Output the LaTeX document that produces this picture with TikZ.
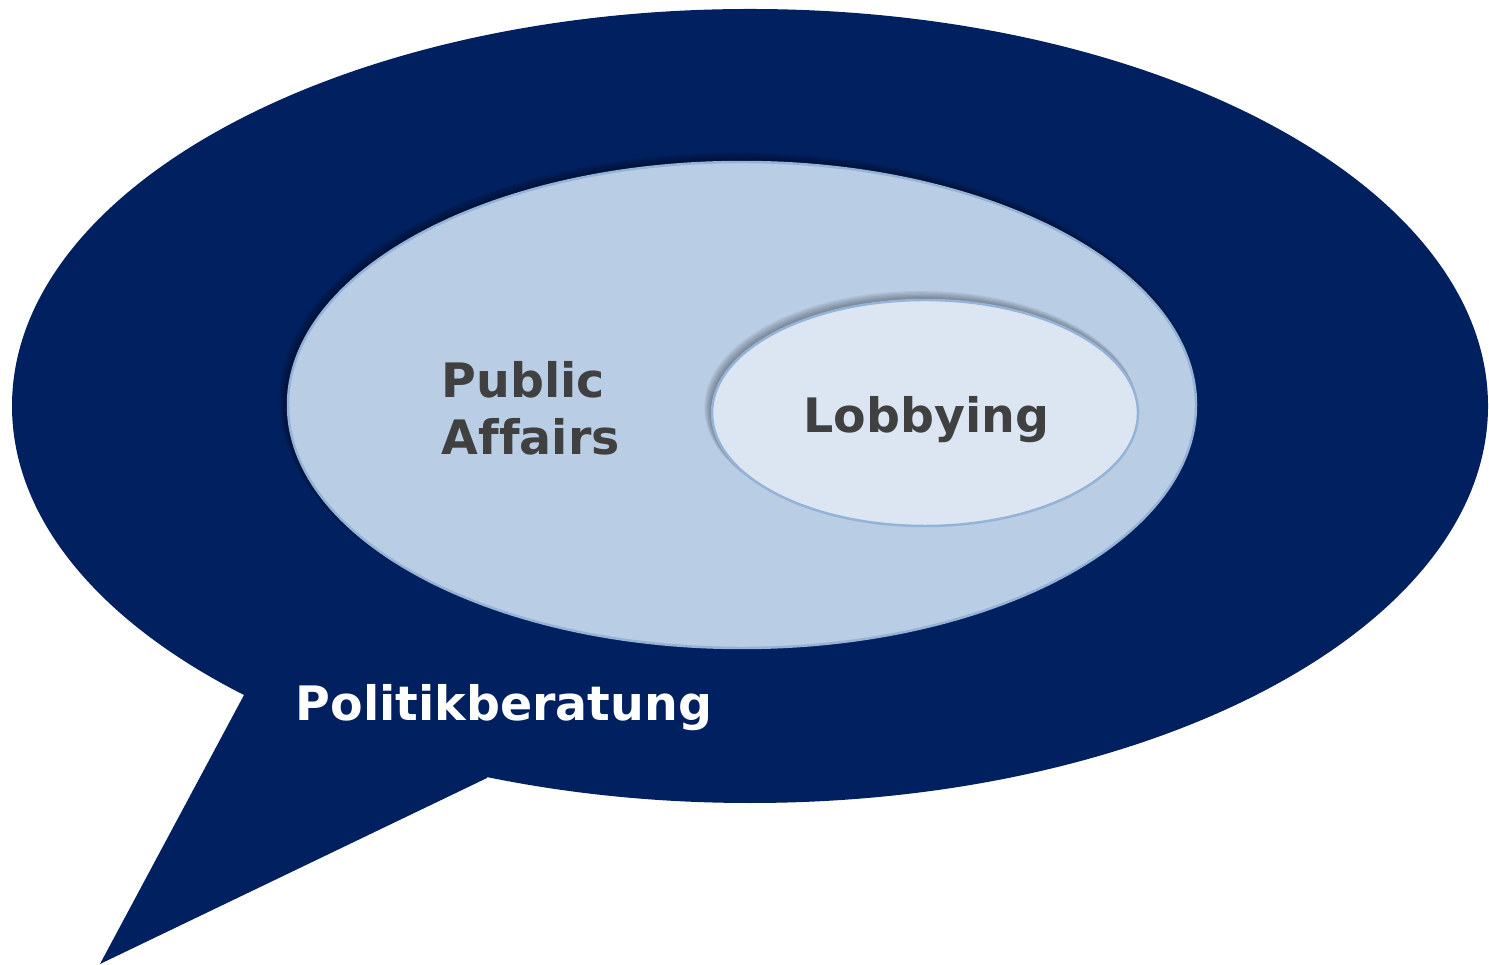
\documentclass[tikz,border=0pt]{standalone}
\usepackage{fontspec}
\setmainfont[Ligatures=NoCommon]{DejaVu Sans}
\definecolor{navy}{HTML}{00205F}
\definecolor{midfill}{HTML}{B9CDE5}
\definecolor{midline}{HTML}{95B3D7}
\definecolor{innerfill}{HTML}{DCE6F2}
\definecolor{txt}{HTML}{404040}
\tikzset{
  lbl/.style={font=\fontsize{13.5pt}{16.2pt}\selectfont\bfseries, inner sep=0pt, anchor=base west},
  ring/.style={draw=midline, line width=0.7pt},
}
\begin{document}
\begin{tikzpicture}[x=0.01cm,y=-0.01cm]
\useasboundingbox (0,0) rectangle (1489,965);
% speech bubble
\fill[navy] (750,406) ellipse [x radius=738, y radius=397];
\coordinate (t1) at (244,695);
\coordinate (t2) at (100,964);
\coordinate (t3) at (487,778);
\fill[navy] (t1) -- (t2) -- (t3) -- (560,600) -- (300,600) -- cycle;
% shadow of middle ellipse
\foreach \i in {1,...,7}
  \fill[black, opacity=0.07] (742-0.6*\i,405-0.7*\i) ellipse [x radius=454+0.6*\i, y radius=243+0.6*\i];
\fill[midfill, ring] (742,405) ellipse [x radius=454, y radius=243];
% shadow of inner ellipse
\foreach \i in {1,...,7}
  \fill[black, opacity=0.06] (925-0.6*\i,413-0.8*\i) ellipse [x radius=213+0.5*\i, y radius=113+0.5*\i];
\fill[innerfill, ring] (925,413) ellipse [x radius=213, y radius=113];
% texts
\node[lbl, text=txt] (pub) at (441,398) {Public};
\node[lbl, text=txt] (aff) at (441,455) {Affairs};
\node[lbl, text=txt] (lob) at (803,433) {Lobbying};
\node[lbl, text=white] (pol) at (295,721) {Politikberatung};
\end{tikzpicture}
\end{document}
